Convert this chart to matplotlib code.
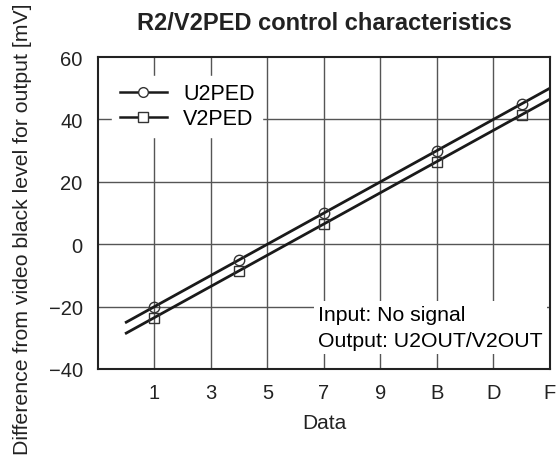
import matplotlib
matplotlib.use("Agg")
import matplotlib.pyplot as plt

plt.rcParams['font.family'] = ['Liberation Sans', 'DejaVu Sans']

# Data
tick_positions = [1, 3, 5, 7, 9, 11, 13, 15]
tick_labels = ["1", "3", "5", "7", "9", "B", "D", "F"]
y_ticks = [-40, -20, 0, 20, 40, 60]

marker_x = [1, 4, 7, 11, 14]
u2ped_points = [-20, -5, 10, 30, 45]
v2ped_points = [-23.5, -8.5, 6.5, 26.5, 41.5]

line_x = [0, 15]
u2ped_line = [-25, 50]
v2ped_line = [-28.5, 46.5]

fig = plt.figure(figsize=(5.6, 4.64), dpi=100)
ax = fig.add_axes([0.175, 0.2026, 0.807, 0.6724])

grid_color = "#555555"
for xt in tick_positions[:-1]:
    ax.axvline(xt, color=grid_color, lw=1.0, zorder=1)
for yt in y_ticks[1:-1]:
    ax.axhline(yt, color=grid_color, lw=1.0, zorder=1)

ax.plot(line_x, u2ped_line, color="#1a1a1a", lw=2.0, zorder=3)
ax.plot(line_x, v2ped_line, color="#1a1a1a", lw=2.0, zorder=3)
ax.plot(marker_x, u2ped_points, linestyle="none", marker="o", ms=7.5,
        mfc="none", mec="#333333", mew=1.0, zorder=4)
ax.plot(marker_x, v2ped_points, linestyle="none", marker="s", ms=7.5,
        mfc="none", mec="#333333", mew=1.0, zorder=4)

# legend proxies
h1, = ax.plot([], [], color="#1a1a1a", lw=1.8, marker="o", ms=7, mfc="white", mec="#333333", mew=1.0)
h2, = ax.plot([], [], color="#1a1a1a", lw=1.8, marker="s", ms=7, mfc="white", mec="#333333", mew=1.0)
leg = ax.legend([h1, h2], ["U2PED", "V2PED"], loc="upper left",
                bbox_to_anchor=(0.031, 0.94), borderaxespad=0,
                frameon=True, fancybox=False,
                framealpha=1, edgecolor="white", facecolor="white",
                fontsize=15.5, handlelength=2.2, handletextpad=0.75,
                labelspacing=0.19, borderpad=0.35)
leg.set_zorder(5)

ax.text(6.79, -26.6, "Input: No signal\nOutput: U2OUT/V2OUT",
        ha="left", va="center", fontsize=15.3, linespacing=1.45,
        bbox=dict(facecolor="white", edgecolor="none", pad=3), zorder=5)

ax.set_xlim(-1, 15)
ax.set_ylim(-40, 60)
ax.set_xticks(tick_positions)
ax.set_xticklabels(tick_labels)
ax.set_yticks(y_ticks)
ax.set_yticklabels([str(v).replace("-", "\u2212") for v in y_ticks])
ax.tick_params(length=0, labelsize=14.5, colors="#222222")
ax.tick_params(axis="y", pad=11)
ax.tick_params(axis="x", pad=10)
for s in ax.spines.values():
    s.set_linewidth(1.5)
    s.set_color("#222222")
    s.set_zorder(6)

ax.set_xlabel("Data", fontsize=15, color="#222222", labelpad=8)
ax.set_ylabel("Difference from video black level for output [mV]",
              fontsize=15.3, color="#222222")
ax.yaxis.set_label_coords(-0.146, 0.452)
ax.set_title("R2/V2PED control characteristics", fontsize=17,
             fontweight="bold", color="#222222", pad=20)

fig.savefig("out.png", dpi=100)
